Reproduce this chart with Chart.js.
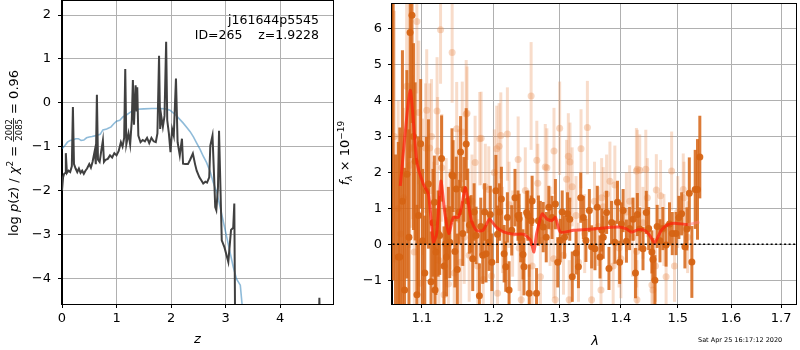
<!DOCTYPE html>
<html>
<head>
<meta charset="utf-8">
<script src="https://cdn.jsdelivr.net/npm/chart.js@4.4.1/dist/chart.umd.min.js"></script>
<style>
  body { margin: 0; background: #fff; }
  #wrap { position: relative; width: 800px; height: 350px; }
  canvas { position: absolute; top: 0; }
</style>
</head>
<body>
<div id="wrap">
  <canvas id="pz" width="336" height="350" style="left:0"></canvas>
  <canvas id="sed" width="464" height="350" style="left:336px"></canvas>
</div>
<script>
// left panel: redshift probability
const zBlack = [0.00, 0.02, 0.04, 0.06, 0.07, 0.09, 0.12, 0.15, 0.18, 0.20, 0.22, 0.25, 0.28, 0.31, 0.34, 0.37, 0.40, 0.43, 0.46, 0.50,
  0.53, 0.56, 0.60, 0.62, 0.64, 0.66, 0.69, 0.72, 0.75, 0.77, 0.80, 0.84, 0.88, 0.92, 0.96, 1.00, 1.04, 1.08, 1.11, 1.14,
  1.16, 1.18, 1.22, 1.25, 1.28, 1.30, 1.32, 1.35, 1.37, 1.38, 1.40, 1.44, 1.48, 1.52, 1.56, 1.60, 1.64, 1.68, 1.72, 1.75,
  1.78, 1.80, 1.82, 1.85, 1.88, 1.91, 1.93, 1.96, 1.99, 2.02, 2.05, 2.09, 2.12, 2.16, 2.20, 2.22, 2.26, 2.31, 2.35, 2.40,
  2.44, 2.47, 2.52, 2.56, 2.59, 2.63, 2.66, 2.70, 2.72, 2.76, 2.79, 2.81, 2.83, 2.86, 2.88, 2.93, 2.98, 3.05, 3.10, 3.14,
  3.16, 3.18, 4.70, 4.72, 4.74];
const logpBlack = [-2.00, -1.70, -1.62, -1.60, -1.15, -1.60, -1.55, -1.58, -1.45, -0.10, -1.40, -1.50, -1.58, -1.50, -1.60, -1.55, -1.62, -1.55, -1.50, -1.40,
  -1.48, -1.35, -1.10, -1.40, 0.18, -1.30, -1.35, -1.10, -0.86, -1.35, -1.30, -1.28, -1.20, -1.25, -1.15, -1.20, -1.10, -0.90, -1.00, -0.80,
  0.77, -0.95, -0.70, -0.95, -0.40, 0.52, -0.50, 0.40, -0.20, 0.35, -0.75, -0.90, -0.85, -0.88, -0.80, -0.92, -0.80, -0.88, -0.90, -0.70,
  1.07, -0.60, -0.30, -0.55, -0.30, 1.39, -0.40, -0.70, -1.13, -0.60, -0.75, 0.55, -0.90, -1.20, -0.82, -1.39, -1.40, -1.40, -1.30, -1.16,
  -1.40, -1.55, -1.70, -1.78, -1.84, -1.80, -1.82, -1.70, -0.98, -0.75, -1.70, -2.38, -2.45, -1.95, -0.64, -3.14, -3.30, -3.63, -2.90, -2.85,
  -2.30, -6.00, -6.00, -4.45, -6.00];
const zModel = [0.00, 0.05, 0.10, 0.15, 0.20, 0.25, 0.30, 0.35, 0.40, 0.45, 0.50, 0.55, 0.62, 0.70, 0.75, 0.82, 0.90, 0.95, 1.00, 1.06,
  1.12, 1.18, 1.25, 1.31, 1.38, 1.50, 1.65, 1.80, 1.90, 1.98, 2.05, 2.10, 2.16, 2.22, 2.30, 2.35, 2.41, 2.47, 2.53, 2.59,
  2.65, 2.72, 2.77, 2.84, 2.90, 2.96, 3.02, 3.08, 3.14, 3.20, 3.27, 3.31];
const logpModel = [-1.05, -0.98, -0.90, -0.86, -0.85, -0.82, -0.82, -0.86, -0.85, -0.80, -0.78, -0.77, -0.75, -0.72, -0.62, -0.60, -0.55, -0.48, -0.42, -0.40,
  -0.32, -0.28, -0.22, -0.17, -0.15, -0.14, -0.13, -0.13, -0.14, -0.17, -0.24, -0.30, -0.38, -0.46, -0.58, -0.66, -0.78, -0.92, -1.06, -1.22,
  -1.36, -1.58, -1.80, -2.05, -2.38, -2.72, -3.06, -3.40, -3.74, -4.02, -4.16, -4.70];
const zTicks = [0, 1, 2, 3, 4];
const logpTicks = [-4, -3, -2, -1, 0, 1, 2];

// right panel: spectrum
const lamDark = [1.0625, 1.0655, 1.0691, 1.0711, 1.0745, 1.0773, 1.0803, 1.0830, 1.0845, 1.0870, 1.0890, 1.0912, 1.0935, 1.0956, 1.0985, 1.1010, 1.1040, 1.1062, 1.1089, 1.1124,
  1.1150, 1.1169, 1.1177, 1.1190, 1.1220, 1.1241, 1.1267, 1.1300, 1.1325, 1.1334, 1.1360, 1.1379, 1.1410, 1.1425, 1.1450, 1.1469, 1.1484, 1.1510, 1.1529, 1.1560,
  1.1576, 1.1608, 1.1630, 1.1653, 1.1678, 1.1700, 1.1720, 1.1748, 1.1795, 1.1815, 1.1843, 1.1870, 1.1890, 1.1933, 1.1952, 1.1975, 1.2033, 1.2057, 1.2085, 1.2114,
  1.2154, 1.2178, 1.2202, 1.2227, 1.2266, 1.2315, 1.2360, 1.2377, 1.2401, 1.2435, 1.2450, 1.2490, 1.2509, 1.2529, 1.2560, 1.2573, 1.2641, 1.2670, 1.2699, 1.2743,
  1.2790, 1.2830, 1.2880, 1.2933, 1.2970, 1.3009, 1.3040, 1.3077, 1.3124, 1.3160, 1.3200, 1.3261, 1.3299, 1.3336, 1.3379, 1.3420, 1.3476, 1.3513, 1.3568, 1.3606,
  1.3651, 1.3680, 1.3705, 1.3760, 1.3800, 1.3843, 1.3899, 1.3943, 1.3980, 1.4010, 1.4039, 1.4095, 1.4150, 1.4209, 1.4250, 1.4283, 1.4324, 1.4381, 1.4438, 1.4480,
  1.4537, 1.4555, 1.4590, 1.4630, 1.4680, 1.4731, 1.4789, 1.4850, 1.4900, 1.4968, 1.5020, 1.5070, 1.5130, 1.5167, 1.5211, 1.5258, 1.5320, 1.5363, 1.5406];
const fluxDark = [8.0, -2.5, -0.35, -0.35, 1.2, -1.27, 1.95, 0.2, 5.9, 6.38, 3.0, 2.31, -1.4, 0.8, 2.8, 0.1, -0.8, 1.49, 1.68, -1.04,
  0.6, 1.17, -1.27, -0.21, 0.3, 0.25, 2.39, -0.6, 0.02, -0.35, 0.6, 0.06, 1.93, 1.9, -0.2, 1.54, -0.7, 0.9, 2.57, 0.3,
  1.53, 2.79, 1.21, 0.54, 0.57, -0.4, 0.9, 0.25, -1.43, 0.5, -0.3, 0.9, -0.26, 0.06, 0.83, -0.5, 1.49, 0.28, 0.9, 1.26,
  -0.26, -0.62, 0.75, -1.27, 0.39, 1.3, 0.8, 0.71, 0.2, -0.28, -0.62, 0.89, 0.8, -1.36, 0.66, 1.21, -1.36, 0.66, 0.61, 0.48,
  0.2, 1.03, 0.75, 1.12, -0.5, 0.11, 0.9, 0.2, 0.85, 0.7, -0.9, -0.24, -0.62, 1.3, 0.75, 0.11, 0.94, -0.07, -0.12, 1.03,
  -0.35, 0.4, 0.2, 0.89, -0.67, 0.61, 0.06, 1.17, -0.5, 0.57, 0.94, 0.09, 0.44, 0.7, -0.8, 0.83, 0.43, -0.12, 0.89, 0.44,
  -0.21, -0.42, -1.0, 0.5, 0.1, 0.44, -0.02, 0.57, 0.3, 0.3, 0.75, 0.85, -0.07, 0.43, 1.42, -0.49, 1.53, 1.53, 2.43];
const errDark = [9.0, 5.0, 3.2, 3.6, 4.2, 3.4, 2.9, 3.0, 3.5, 3.0, 2.6, 2.2, 2.5, 2.2, 1.8, 2.0, 1.6, 1.5, 1.8, 1.4,
  1.5, 1.3, 1.2, 1.2, 1.2, 1.1, 1.2, 1.1, 1.0, 1.1, 1.0, 1.0, 1.3, 1.0, 1.0, 0.9, 1.0, 0.9, 1.0, 0.9,
  0.9, 1.0, 0.9, 0.8, 0.8, 0.9, 0.8, 0.8, 0.9, 0.8, 0.8, 0.8, 0.8, 0.8, 0.8, 0.8, 1.0, 0.8, 0.8, 0.9,
  0.8, 0.7, 0.7, 0.8, 0.7, 0.8, 0.7, 0.7, 0.7, 0.7, 0.8, 0.6, 0.7, 0.8, 0.7, 0.7, 0.7, 0.7, 0.6, 0.7,
  0.7, 0.6, 0.6, 0.7, 0.7, 0.6, 0.6, 0.6, 0.6, 0.6, 0.7, 0.6, 0.6, 0.7, 0.6, 0.6, 0.6, 0.6, 0.6, 0.6,
  0.6, 0.6, 0.6, 0.6, 0.6, 0.6, 0.6, 0.6, 0.6, 0.6, 0.6, 0.6, 0.6, 0.6, 0.7, 0.6, 0.6, 0.6, 0.6, 0.6,
  0.6, 0.6, 0.7, 0.6, 0.6, 0.6, 0.6, 0.6, 0.6, 0.6, 0.6, 0.6, 0.6, 0.6, 1.0, 1.0, 1.1, 1.4, 1.15];

const lamLight = [1.0640, 1.0690, 1.0720, 1.0760, 1.0800, 1.0840, 1.0862, 1.0878, 1.0900, 1.0934, 1.0960, 1.0980, 1.1010, 1.1050, 1.1066, 1.1106, 1.1130, 1.1160, 1.1180, 1.1205,
  1.1213, 1.1230, 1.1253, 1.1270, 1.1300, 1.1330, 1.1360, 1.1385, 1.1412, 1.1440, 1.1475, 1.1500, 1.1530, 1.1553, 1.1580, 1.1608, 1.1620, 1.1650, 1.1690, 1.1734,
  1.1770, 1.1800, 1.1820, 1.1850, 1.1880, 1.1930, 1.1970, 1.2010, 1.2045, 1.2057, 1.2080, 1.2105, 1.2130, 1.2202, 1.2227, 1.2280, 1.2362, 1.2377, 1.2408, 1.2470,
  1.2530, 1.2558, 1.2573, 1.2645, 1.2660, 1.2700, 1.2775, 1.2800, 1.2850, 1.2906, 1.2911, 1.2930, 1.3000, 1.3060, 1.3110, 1.3137, 1.3150, 1.3163, 1.3198, 1.3260,
  1.3300, 1.3341, 1.3400, 1.3444, 1.3513, 1.3560, 1.3620, 1.3667, 1.3678, 1.3705, 1.3760, 1.3816, 1.3870, 1.3899, 1.3970, 1.4000, 1.4095, 1.4150, 1.4200, 1.4266,
  1.4270, 1.4276, 1.4283, 1.4324, 1.4380, 1.4430, 1.4457, 1.4537, 1.4555, 1.4600, 1.4615, 1.4690, 1.4750, 1.4789, 1.4889, 1.4940, 1.5000, 1.5100, 1.5113, 1.5180];
const fluxLight = [3.0, 1.0, 0.29, 1.3, 4.4, 2.2, 2.66, 2.7, -0.21, 6.2, 3.67, -1.08, 1.6, 2.68, 3.73, 2.68, 3.0, 0.6, -1.27, 3.71,
  2.6, -0.44, 5.97, 2.13, -1.4, 1.0, -1.1, 0.7, 5.34, -0.8, 3.22, 1.9, -0.5, 3.13, 0.2, 3.63, 3.65, -0.3, 1.2, 2.28,
  -0.6, 2.94, 2.95, -0.98, 1.6, 1.53, -0.88, 2.0, 2.66, -1.36, 2.73, 3.03, 0.4, 3.07, 1.1, 0.3, 2.36, -0.1, -1.54, 1.5,
  0.2, 4.13, -0.6, 2.34, 1.7, -0.9, 2.15, 2.13, 0.5, -0.4, 2.6, -1.54, 3.23, -0.3, 1.81, 2.45, -1.54, 2.29, 1.6, 0.8,
  -0.5, 2.66, 0.3, 3.25, -1.54, 1.2, 0.5, -1.27, 1.3, 1.05, 1.4, 1.76, -0.6, 1.65, -0.1, -0.4, 0.9, 1.2, 0.2, 2.04,
  -0.2, -1.54, 2.09, 2.06, 0.6, 2.09, 1.3, -1.13, -1.27, -0.6, 1.51, 1.35, 0.4, -0.9, 2.04, -0.6, 0.9, 1.53, 1.3, 0.2];
const errLight = [3.5, 3.0, 2.8, 2.5, 2.5, 2.3, 2.2, 2.0, 2.2, 2.0, 2.0, 2.0, 1.9, 1.8, 1.7, 1.8, 1.6, 1.7, 1.6, 1.5,
  1.5, 1.5, 1.5, 1.5, 1.5, 1.4, 1.4, 1.4, 1.4, 1.4, 1.3, 1.3, 1.4, 1.4, 1.3, 1.5, 1.3, 1.3, 1.3, 1.3,
  1.3, 1.3, 1.3, 1.3, 1.2, 1.2, 1.2, 1.2, 1.2, 1.2, 1.2, 1.2, 1.2, 1.3, 1.2, 1.2, 1.2, 1.2, 1.2, 1.2,
  1.1, 1.5, 1.1, 1.1, 1.1, 1.1, 1.2, 1.1, 1.1, 1.1, 1.2, 1.1, 1.3, 1.1, 1.1, 1.2, 1.1, 1.1, 1.1, 1.1,
  1.1, 1.1, 1.1, 1.3, 1.1, 1.1, 1.1, 1.1, 1.1, 1.1, 1.1, 1.1, 1.1, 1.1, 1.1, 1.1, 1.1, 1.0, 1.1, 1.2,
  1.0, 1.1, 1.1, 1.0, 1.0, 1.1, 1.1, 1.1, 1.0, 1.0, 1.0, 1.0, 1.0, 1.0, 1.1, 1.0, 1.0, 1.0, 1.0, 1.0];

const lamModel = [1.0717, 1.0846, 1.0934, 1.1022, 1.1089, 1.1156, 1.1200, 1.1258, 1.1312, 1.1367, 1.1427, 1.1496, 1.1542, 1.1597, 1.1681, 1.1752, 1.1847, 1.1941, 1.2037, 1.2154,
  1.2301, 1.2450, 1.2551, 1.2600, 1.2642, 1.2727, 1.2804, 1.2880, 1.2933, 1.3011, 1.3221, 1.3542, 1.3955, 1.4095, 1.4180, 1.4295, 1.4411, 1.4498, 1.4585, 1.4702,
  1.4821, 1.4941, 1.5182, 1.5305, 1.5397];
const fluxModel = [1.63, 4.29, 2.30, 1.67, 1.40, 0.06, 0.30, 1.76, 0.85, 0.30, 0.75, 0.75, 1.03, 1.58, 0.66, 0.39, 0.39, 0.70, 0.48, 0.34,
  0.28, 0.28, 0.11, -0.21, 0.30, 0.85, 0.70, 0.66, 0.75, 0.34, 0.39, 0.43, 0.48, 0.43, 0.34, 0.41, 0.39, 0.25, 0.04, 0.39,
  0.55, 0.59, 0.55, 0.59, 0.63];
const lamTicks = [1.1, 1.2, 1.3, 1.4, 1.5, 1.6, 1.7];
const fluxTicks = [-1, 0, 1, 2, 3, 4, 5, 6];

const FONT = "'DejaVu Sans', sans-serif";
const GRID = '#b0b0b0';
const pts = (xs, ys) => xs.map((x, i) => ({ x, y: ys[i] }));
const minus = v => String(v).replace('-', '\u2212');

const errorBars = {
  id: 'errorBars',
  beforeDatasetDraw(chart, args) {
    const ds = chart.data.datasets[args.index];
    if (!ds.errs) return;
    const { ctx, chartArea: a, scales: { x, y } } = chart;
    ctx.save();
    ctx.beginPath();
    ctx.rect(a.left, a.top, a.right - a.left, a.bottom - a.top);
    ctx.clip();
    ctx.strokeStyle = ds.errColor;
    ctx.lineWidth = 3;
    ds.data.forEach((p, i) => {
      const px = x.getPixelForValue(p.x);
      ctx.beginPath();
      ctx.moveTo(px, y.getPixelForValue(p.y - ds.errs[i]));
      ctx.lineTo(px, y.getPixelForValue(p.y + ds.errs[i]));
      ctx.stroke();
    });
    ctx.restore();
  }
};

const frame = {
  id: 'frame',
  afterDatasetsDraw(chart) {
    const { ctx, chartArea: a } = chart;
    ctx.save();
    ctx.strokeStyle = '#000';
    ctx.lineWidth = 1;
    ctx.strokeRect(Math.round(a.left) - 0.5, Math.round(a.top) - 0.5, Math.round(a.right - a.left) + 1, Math.round(a.bottom - a.top) + 1);
    ctx.restore();
  }
};

function fontOf(p) { return (p.italic ? 'italic ' : '') + p.size + 'px ' + FONT; }

function drawRotated(ctx, parts, baseX, midY) {
  ctx.save();
  ctx.translate(baseX, midY);
  ctx.rotate(-Math.PI / 2);
  ctx.fillStyle = '#000';
  ctx.textBaseline = 'alphabetic';
  const widths = parts.map(p => {
    ctx.font = fontOf(p);
    if (p.frac) return Math.max(ctx.measureText(p.frac[0]).width, ctx.measureText(p.frac[1]).width) + 2;
    return ctx.measureText(p.t).width;
  });
  let x = -widths.reduce((a, b) => a + b, 0) / 2;
  parts.forEach((p, i) => {
    ctx.font = fontOf(p);
    if (p.frac) {
      ctx.textAlign = 'center';
      ctx.fillText(p.frac[0], x + widths[i] / 2, -6);
      ctx.fillText(p.frac[1], x + widths[i] / 2, 3.5);
      ctx.fillRect(x, -4.9, widths[i], 0.8);
    } else {
      ctx.textAlign = 'left';
      ctx.fillText(p.t, x, p.dy || 0);
    }
    x += widths[i];
  });
  ctx.restore();
}

function axis(opts) {
  return {
    type: opts.type || 'linear',
    min: opts.min,
    max: opts.max,
    afterBuildTicks: s => { s.ticks = opts.ticks.map(v => ({ value: v })); },
    afterFit: s => {
      if (s.isHorizontal()) s.height = 46; else s.width = opts.width;
      s.paddingTop = 0; s.paddingBottom = 0; s.paddingLeft = 0; s.paddingRight = 0;
    },
    grid: { color: GRID, lineWidth: 1, tickColor: '#000', tickLength: 4 },
    border: { color: '#000' },
    ticks: {
      color: '#000',
      font: { family: FONT, size: 13 },
      padding: opts.pad,
      maxRotation: 0,
      autoSkip: false,
      callback: opts.fmt
    }
  };
}

const pzLabels = {
  id: 'pzLabels',
  afterDraw(chart) {
    const ctx = chart.ctx;
    ctx.save();
    ctx.fillStyle = '#000';
    ctx.font = '12.5px ' + FONT;
    ctx.textAlign = 'right';
    ctx.fillText('j161644p5545', 319, 24);
    ctx.fillText('ID=265    z=1.9228', 319, 39);
    ctx.textAlign = 'center';
    ctx.font = 'italic 13px ' + FONT;
    ctx.fillText('z', 197.5, 343);
    ctx.restore();
    drawRotated(ctx, [
      { t: 'log ', size: 13 },
      { t: 'p', size: 13, italic: true },
      { t: '(', size: 13 },
      { t: 'z', size: 13, italic: true },
      { t: ') / ', size: 13 },
      { t: '\u03c7', size: 13, italic: true },
      { t: '2', size: 9, dy: -5.5 },
      { t: ' = ', size: 13 },
      { frac: ['2002', '2085'], size: 8.5 },
      { t: ' = 0.96', size: 13 }
    ], 18, 153);
  }
};

const sedLabels = {
  id: 'sedLabels',
  afterDraw(chart) {
    const ctx = chart.ctx;
    ctx.save();
    ctx.fillStyle = '#000';
    ctx.textAlign = 'center';
    ctx.font = 'italic 13px ' + FONT;
    ctx.fillText('\u03bb', 259, 345);
    ctx.font = '6.5px ' + FONT;
    ctx.textAlign = 'left';
    ctx.fillText('Sat Apr 25 16:17:12 2020', 362, 341.5);
    ctx.restore();
    drawRotated(ctx, [
      { t: 'f', size: 13, italic: true },
      { t: '\u03bb', size: 9, italic: true, dy: 3 },
      { t: ' \u00d7 10', size: 13 },
      { t: '\u221219', size: 9, dy: -5.5 }
    ], 13, 153);
  }
};

new Chart(document.getElementById('pz'), {
  type: 'scatter',
  data: {
    datasets: [
      { data: pts(zBlack, logpBlack), showLine: true, borderColor: '#404040', borderWidth: 2, pointRadius: 0, order: 1 },
      { data: pts(zModel, logpModel), showLine: true, borderColor: 'rgba(31,119,180,0.5)', borderWidth: 1.6, pointRadius: 0, order: 2 }
    ]
  },
  options: {
    responsive: false,
    animation: false,
    devicePixelRatio: 1,
    layout: { padding: { top: 1, right: 3, bottom: 0, left: 0 } },
    plugins: { legend: { display: false }, tooltip: { enabled: false } },
    scales: {
      x: axis({ min: 0, max: 4.97, ticks: zTicks, pad: 3, fmt: v => minus(v) }),
      y: axis({ min: -4.59, max: 2.32, ticks: logpTicks, pad: 7, width: 62, fmt: v => minus(v) })
    }
  },
  plugins: [frame, pzLabels]
});

new Chart(document.getElementById('sed'), {
  type: 'scatter',
  data: {
    datasets: [
      { data: pts(lamLight, fluxLight), errs: errLight, errColor: 'rgba(232,140,80,0.3)',
        pointRadius: 3.5, pointBorderWidth: 0, pointBackgroundColor: 'rgba(232,140,80,0.35)', order: 5 },
      { data: pts(lamDark, fluxDark), errs: errDark, errColor: 'rgba(214,100,20,0.85)',
        pointRadius: 3.5, pointBorderWidth: 0, pointBackgroundColor: 'rgba(214,100,20,0.95)', order: 4 },
      { data: pts(lamModel, fluxModel), showLine: true, borderWidth: 3, pointRadius: 0, tension: 0.2, order: 2,
        borderColor: 'rgba(255,30,10,0.7)',
        segment: { borderColor: c => c.p0.parsed.x > 1.515 ? 'rgba(255,120,120,0.5)' : undefined } },
      { data: [{ x: 1.0, y: 0 }, { x: 1.8, y: 0 }], showLine: true, borderColor: '#000', borderWidth: 1.5,
        borderDash: [2, 2.5], pointRadius: 0, order: 1 }
    ]
  },
  options: {
    responsive: false,
    animation: false,
    devicePixelRatio: 1,
    layout: { padding: { top: 1, right: 1, bottom: 0, left: 0 } },
    plugins: { legend: { display: false }, tooltip: { enabled: false } },
    scales: {
      x: axis({ type: 'logarithmic', min: 1.061, max: 1.731, ticks: lamTicks, pad: 3, fmt: v => Number(v).toFixed(1) }),
      y: axis({ min: -1.66, max: 6.69, ticks: fluxTicks, pad: 6, width: 56, fmt: v => minus(v) })
    }
  },
  plugins: [errorBars, frame, sedLabels]
});
</script>
</body>
</html>
